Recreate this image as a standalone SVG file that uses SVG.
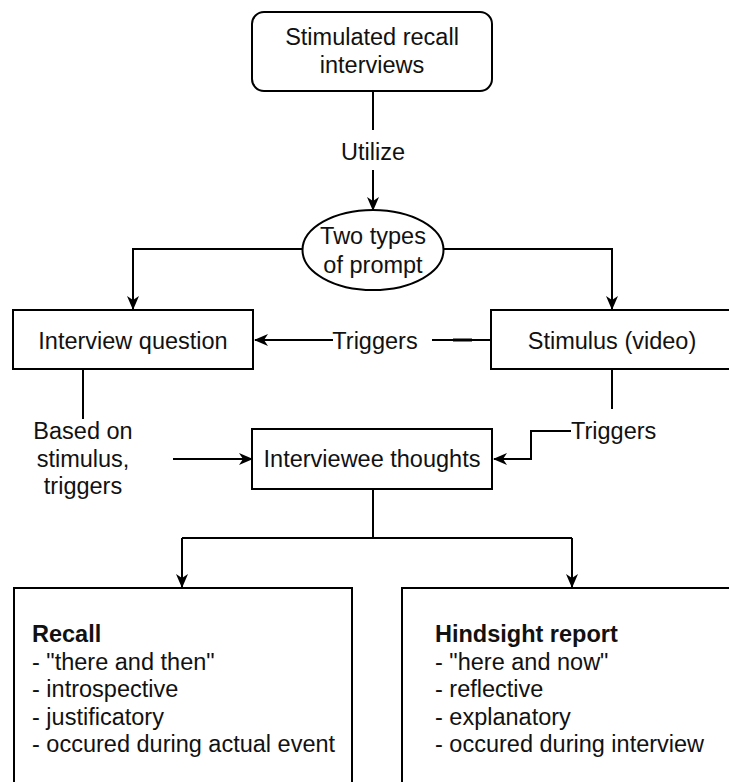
<svg xmlns="http://www.w3.org/2000/svg" width="729" height="782" viewBox="0 0 729 782">
<style>
.box{fill:#fff;stroke:#000;stroke-width:2}
.ln{fill:none;stroke:#000;stroke-width:2}
text{font-family:"Liberation Sans",Arial,sans-serif;font-size:23.5px;fill:#111}
.c{text-anchor:middle}
.b{font-weight:bold}
</style>
<defs>
<marker id="arr" viewBox="0 0 14 12" markerWidth="14" markerHeight="12" refX="13" refY="6" orient="auto" markerUnits="userSpaceOnUse">
<path d="M0,0 L14,6 L0,12 L4,6 z" fill="#000"/>
</marker>
</defs>
<rect width="729" height="782" fill="#fff"/>
<g id="connectors">
<path class="ln" d="M373,91 V130"/>
<path class="ln" d="M373,170 V210" marker-end="url(#arr)"/>
<path class="ln" d="M302,249 H133 V309" marker-end="url(#arr)"/>
<path class="ln" d="M443,249 H612 V309" marker-end="url(#arr)"/>
<path class="ln" d="M333,340 H255" marker-end="url(#arr)"/>
<path class="ln" d="M432,340 H491"/>
<path d="M453,340 H472" stroke="#000" stroke-width="3"/>
<path class="ln" d="M83,369 V419"/>
<path class="ln" d="M173,459 H252" marker-end="url(#arr)"/>
<path class="ln" d="M612,369 V409"/>
<path class="ln" d="M571,431 H531 V459 H494" marker-end="url(#arr)"/>
<path class="ln" d="M373,489 V538"/>
<path class="ln" d="M182,538 H572"/>
<path class="ln" d="M182,538 V587" marker-end="url(#arr)"/>
<path class="ln" d="M572,538 V587" marker-end="url(#arr)"/>
<text x="373" y="160" class="c">Utilize</text>
<text x="375" y="349" class="c">Triggers</text>
<text x="571" y="439">Triggers</text>
<text x="83" y="439" class="c">Based on</text>
<text x="83" y="467" class="c">stimulus,</text>
<text x="83" y="494" class="c">triggers</text>
</g>
<g id="stimulated-recall">
<rect class="box" x="252" y="12" width="240" height="79" rx="12"/>
<text x="372" y="45" class="c">Stimulated recall</text>
<text x="372" y="73" class="c">interviews</text>
</g>
<g id="two-types">
<ellipse class="box" cx="373" cy="250" rx="70.5" ry="40"/>
<text x="373" y="244" class="c">Two types</text>
<text x="373" y="273" class="c">of prompt</text>
</g>
<g id="interview-question">
<rect class="box" x="13" y="310" width="240" height="59"/>
<text x="133" y="349" class="c">Interview question</text>
</g>
<g id="stimulus">
<rect class="box" x="491" y="310" width="242" height="59"/>
<text x="612" y="349" class="c">Stimulus (video)</text>
</g>
<g id="interviewee-thoughts">
<rect class="box" x="252" y="429" width="240" height="60"/>
<text x="372" y="467" class="c">Interviewee thoughts</text>
</g>
<g id="recall">
<rect class="box" x="14" y="588" width="338" height="200"/>
<text x="32" y="642" class="b">Recall</text>
<text x="32" y="669.5">- "there and then"</text>
<text x="32" y="697">- introspective</text>
<text x="32" y="724.5">- justificatory</text>
<text x="32" y="752">- occured during actual event</text>
</g>
<g id="hindsight">
<rect class="box" x="402" y="588" width="340" height="200"/>
<text x="435" y="642" class="b">Hindsight report</text>
<text x="435" y="669.5">- "here and now"</text>
<text x="435" y="697">- reflective</text>
<text x="435" y="724.5">- explanatory</text>
<text x="435" y="752">- occured during interview</text>
</g>
</svg>
